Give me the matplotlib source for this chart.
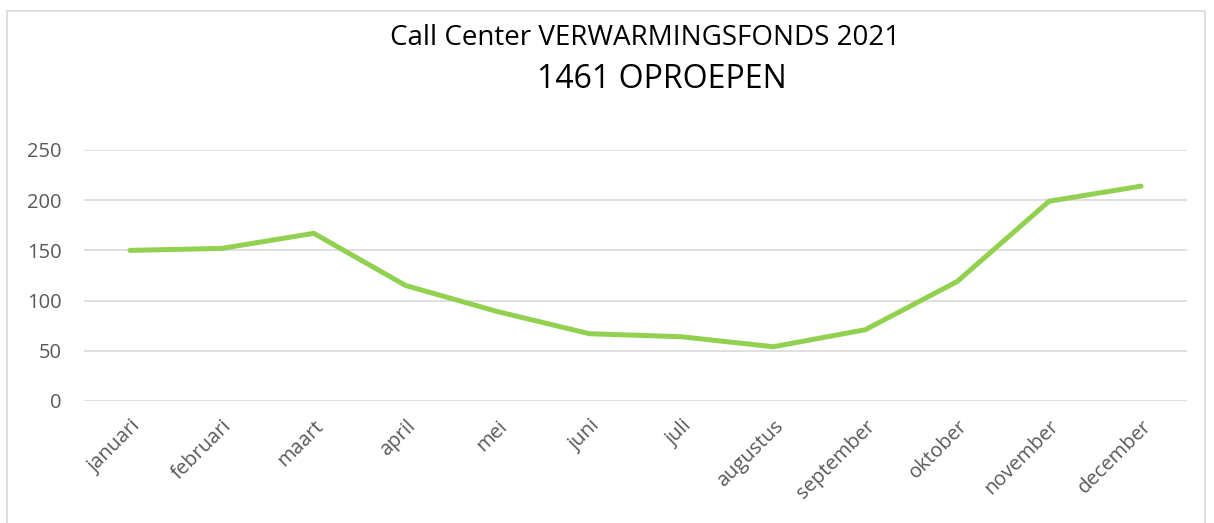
#!/usr/bin/env python3
"""Call Center VERWARMINGSFONDS 2021 - oproepen per maand."""

import matplotlib
matplotlib.use("Agg")
import matplotlib.pyplot as plt
from matplotlib.patches import Rectangle

# ---------------------------------------------------------------------------
# Data
# ---------------------------------------------------------------------------
maanden = ["januari", "februari", "maart", "april", "mei", "juni", "juli",
           "augustus", "september", "oktober", "november", "december"]
oproepen = [150, 152, 167, 115, 89, 67, 64, 54, 71, 119, 199, 214]
y_ticks = [0, 50, 100, 150, 200, 250]

TITEL_1 = "Call Center VERWARMINGSFONDS 2021"
TITEL_2 = "1461 OPROEPEN"

GROEN = "#92D050"
GRIJS_TEKST = "#595959"
GRIJS_GRID = "#D9D9D9"

W, H, DPI = 1214, 523, 100

plt.rcParams["font.family"] = ["Open Sans", "DejaVu Sans"]

fig = plt.figure(figsize=(W / DPI, H / DPI), dpi=DPI)

# plotgebied in pixels: x 84..1187, y 150..401
ax = fig.add_axes([84 / W, 1 - 401 / H, (1187 - 84) / W, (401 - 150) / H])

x = list(range(len(maanden)))
ax.plot(x, oproepen, color=GROEN, linewidth=3.6, solid_capstyle="round",
        solid_joinstyle="round", zorder=3)

ax.set_xlim(-0.5, len(maanden) - 0.5)
ax.set_ylim(0, 250)
ax.set_yticks(y_ticks)
ax.set_xticks(x)
ax.set_xticklabels(maanden, rotation=45, ha="right", va="top",
                   rotation_mode="anchor")

ax.grid(axis="y", color=GRIJS_GRID, linewidth=1.2, zorder=1)
for s in ax.spines.values():
    s.set_visible(False)
ax.tick_params(axis="both", length=0, colors=GRIJS_TEKST, labelsize=14.5)
ax.tick_params(axis="y", pad=16)
ax.tick_params(axis="x", pad=11)

# titels
fig.text(645 / W, 1 - 38 / H, TITEL_1, ha="center", va="center",
         fontsize=20, color="#000000")
fig.text(662 / W, 1 - 80 / H, TITEL_2, ha="center", va="center",
         fontsize=23, color="#000000")

# kader rond de grafiek
fig.patches.append(Rectangle((7 / W, -0.05), (1205 - 7) / W, 1.05 - 11 / H,
                             transform=fig.transFigure, fill=False,
                             edgecolor="#D9D9D9", linewidth=1.2))

fig.savefig("out.png", dpi=DPI)
plt.close(fig)
